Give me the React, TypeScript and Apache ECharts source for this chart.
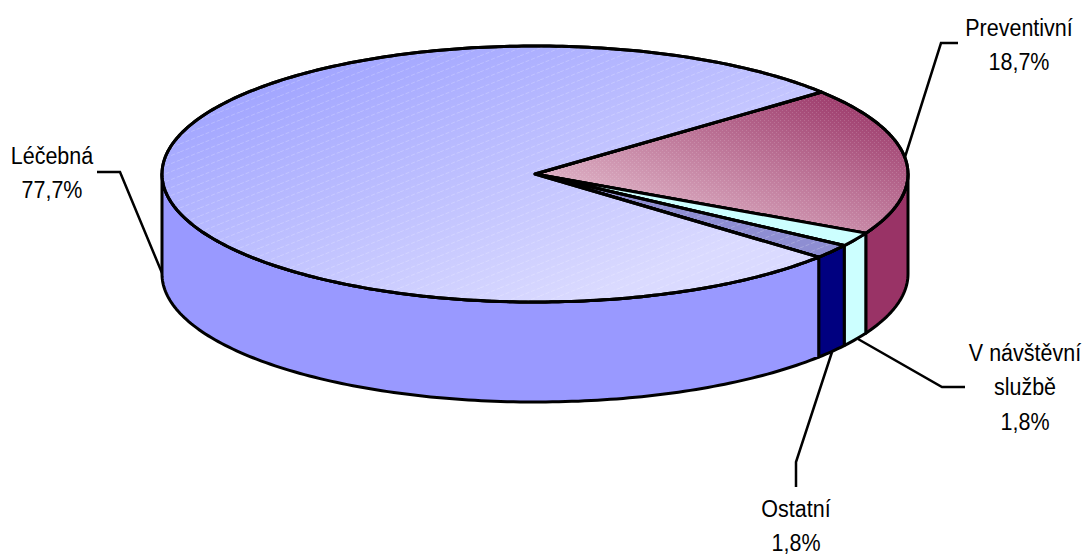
import React, { useEffect, useRef } from "react";
import * as echarts from "echarts";

// Data
const categories = ["Preventivní", "V návštěvní službě", "Ostatní", "Léčebná"];
const values = [18.7, 1.8, 1.8, 77.7];
const labelLines = [["Preventivní"], ["V návštěvní", "službě"], ["Ostatní"], ["Léčebná"]];

// Layout
const CX = 535, CY = 174, RX = 373, RY = 128, DEPTH = 100;
const START_DEG = 39.8;
const FONT = '21.5px "Liberation Sans", Arial, sans-serif';
const TEXT_SCALE_Y = 1.15;
const LINE_H = 34.5;
const labelPos = [[1019, 27], [1025, 352], [796, 508], [52, 155]];
const leaders = [
  [[905, 157], [941, 43], [958, 43]],
  [[858, 339], [942, 387], [965, 387]],
  [[832, 352], [796, 462], [796, 487]],
  [[97, 172], [120, 172], [162, 273]],
];
const sideColors = ["#993366", "#CCFFFF", "#000080", "#9999FF"];

function linear(x: number, y: number, x2: number, y2: number, a: string, b: string) {
  return { type: "linear", x, y, x2, y2, global: true, colorStops: [{ offset: 0, color: a }, { offset: 1, color: b }] };
}
const topFills: any[] = [
  linear(850, 85, 770, 301, "#993366", "#EAC8D6"),
  "#CCFFFF",
  "#8E8ED2",
  linear(300, 50, 412, 360, "#9EA2FF", "#DADAFF"),
];

function hatchTile(kind: "line" | "dots") {
  const c = document.createElement("canvas");
  if (kind === "line") {
    c.width = 20; c.height = 8;
    const g = c.getContext("2d")!;
    g.strokeStyle = "rgba(255,255,255,0.22)";
    g.lineWidth = 1;
    g.setLineDash([4, 2]);
    g.beginPath(); g.moveTo(0, 8); g.lineTo(20, 0); g.stroke();
  } else {
    c.width = 4; c.height = 4;
    const g = c.getContext("2d")!;
    g.fillStyle = "rgba(255,255,255,0.15)";
    g.fillRect(0, 0, 1, 1);
    g.fillRect(2, 2, 1, 1);
  }
  return c;
}

const rad = (d: number) => (d * Math.PI) / 180;
const pt = (t: number, dy = 0) => [CX + RX * Math.cos(rad(t)), CY - RY * Math.sin(rad(t)) + dy];
function arc(from: number, to: number, dy = 0) {
  const n = Math.max(2, Math.ceil(Math.abs(to - from)));
  const out: number[][] = [];
  for (let i = 0; i <= n; i++) out.push(pt(from + ((to - from) * i) / n, dy));
  return out;
}

export default function App() {
  const ref = useRef<HTMLDivElement>(null);
  useEffect(() => {
    const chart = echarts.init(ref.current!, null, { renderer: "svg" });
    const total = values.reduce((a, b) => a + b, 0);
    const spans: number[][] = [];
    let cur = START_DEG;
    values.forEach((v) => {
      const next = cur - (v / total) * 360;
      spans.push([cur, next]);
      cur = next;
    });
    const lineTile = { image: hatchTile("line"), repeat: "repeat" };
    const dotTile = { image: hatchTile("dots"), repeat: "repeat" };
    const overlay: any[] = [dotTile, null, lineTile, lineTile];
    const stroke = { stroke: "#000", lineWidth: 3, lineJoin: "round" };

    const renderItem = (_p: any, api: any) => {
      const i = api.value(0) as number;
      const [a0, a1] = spans[i];
      const children: any[] = [];
      // front wall: only the part of the slice between 0 and -180 degrees
      const s0 = Math.min(a0, 0);
      const s1 = Math.max(a1, -180);
      if (s0 > s1) {
        const wall = [...arc(s0, s1), ...arc(s1, s0, DEPTH)];
        children.push({ type: "polygon", shape: { points: wall }, style: { fill: sideColors[i], ...stroke } });
      }
      const top = [[CX, CY], ...arc(a0, a1)];
      children.push({ type: "polygon", shape: { points: top }, style: { fill: topFills[i], ...stroke } });
      if (overlay[i]) {
        children.push({ type: "polygon", shape: { points: top }, style: { fill: overlay[i] } });
        children.push({ type: "polygon", shape: { points: top }, style: { fill: "none", ...stroke } });
      }
      // leader line
      children.push({
        type: "polyline",
        shape: { points: leaders[i] },
        style: { fill: "none", stroke: "#000", lineWidth: 2.5 },
      });
      // label
      const lines = [...labelLines[i], values[i].toFixed(1).replace(".", ",") + "%"];
      lines.forEach((txt, k) => {
        children.push({
          type: "text",
          x: labelPos[i][0],
          y: labelPos[i][1] + k * LINE_H,
          scaleY: TEXT_SCALE_Y,
          style: { text: txt, font: FONT, fill: "#000", textAlign: "center", textVerticalAlign: "middle" },
        });
      });
      return { type: "group", children };
    };

    chart.setOption({
      animation: false,
      backgroundColor: "#fff",
      series: [
        {
          type: "custom",
          coordinateSystem: "none",
          renderItem,
          data: categories.map((name, i) => ({ name, value: [i, values[i]] })),
        },
      ],
    });
    return () => chart.dispose();
  }, []);
  return <div ref={ref} style={{ width: 1085, height: 555, position: "absolute", left: 0, top: 0 }} />;
}
